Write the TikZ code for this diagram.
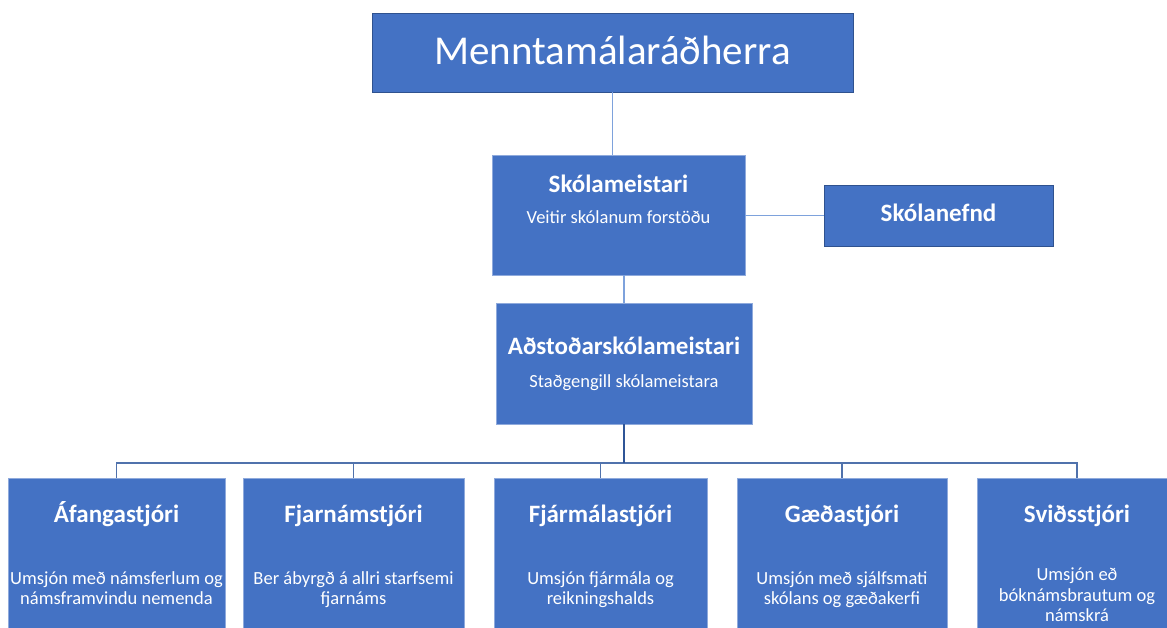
\documentclass[tikz,border=0pt]{standalone}
\usepackage{fontspec}
\setmainfont{Carlito}
\definecolor{boxblue}{HTML}{4472C4}
\definecolor{edgedark}{HTML}{2F528F}
\definecolor{edgelight}{HTML}{8FAADC}
\definecolor{linkblue}{HTML}{7EA2DC}
\definecolor{bardark}{HTML}{2F5597}
\definecolor{barblue}{HTML}{5072AC}
\begin{document}
\begin{tikzpicture}[x=1pt, y=-1pt,
  unit/.style={rectangle, fill=boxblue, draw=edgelight, line width=0.8pt, inner sep=0pt},
  head/.style={text=white, font=\fontsize{25}{29}\selectfont\bfseries, inner sep=0pt, anchor=base},
  sub/.style={text=white, font=\fontsize{18.5}{20.5}\selectfont, align=center, inner sep=0pt, anchor=base},
  link/.style={draw=linkblue, line width=1.3pt},
  bar/.style={draw=barblue, line width=1.5pt},
  trunk/.style={draw=bardark, line width=2.5pt}]
\useasboundingbox (0,0) rectangle (1167,628);
% top of the chart
\node[unit, draw=edgedark, minimum width=481pt, minimum height=79pt] (rad) at (612.5,52.5){};
\node[text=white, font=\fontsize{41}{45}\selectfont, inner sep=0pt, anchor=base] (radt) at (612.5,65){Menntamálaráðherra};
\node[unit, minimum width=253pt, minimum height=120pt] (meist) at (618.5,215){};
\node[head] (meistt) at (618.5,193){Skólameistari};
\node[sub] (meists) at (618.5,224){Veitir skólanum forstöðu};
\node[unit, draw=edgedark, minimum width=229pt, minimum height=61pt] (nefnd) at (938.5,215.5){};
\node[head] (nefndt) at (938.5,222){Skólanefnd};
\node[unit, minimum width=256pt, minimum height=121pt] (adst) at (624,363.5){};
\node[head] (adstt) at (624,354){Aðstoðarskólameistari};
\node[sub] (adsts) at (624,387){Staðgengill skólameistara};
\draw[link](rad.south) -- (rad.south |- meist.north);
\draw[link](nefnd.west -| meist.east) -- (nefnd.west);
\draw[link](adst.north) -- (adst.north |- meist.south);
% lower row
\node[unit, minimum width=217pt, minimum height=172pt] (stj1) at (116.5,564){};
\node[head] (stj1t) at (116.5,522){Áfangastjóri};
\node[sub] (stj1s) at (116.5,604.5){Umsjón með námsferlum og\\námsframvindu nemenda};
\node[unit, minimum width=221pt, minimum height=172pt] (stj2) at (353.5,564){};
\node[head] (stj2t) at (353.5,522){Fjarnámstjóri};
\node[sub] (stj2s) at (353.5,604.5){Ber ábyrgð á allri starfsemi\\fjarnáms};
\node[unit, minimum width=213pt, minimum height=172pt] (stj3) at (600.5,564){};
\node[head] (stj3t) at (600.5,522){Fjármálastjóri};
\node[sub] (stj3s) at (600.5,604.5){Umsjón fjármála og\\reikningshalds};
\node[unit, minimum width=210pt, minimum height=172pt] (stj4) at (842,564){};
\node[head] (stj4t) at (842,522){Gæðastjóri};
\node[sub] (stj4s) at (842,604.5){Umsjón með sjálfsmati\\skólans og gæðakerfi};
\node[unit, minimum width=200pt, minimum height=172pt] (stj5) at (1077,564){};
\node[head] (stj5t) at (1077,522){Sviðsstjóri};
\node[sub] (stj5s) at (1077,621.5){Umsjón eð\\bóknámsbrautum og\\námskrá};
\coordinate (fork) at (adst.south |- 0,463);
\draw[bar](stj1.north) -- (stj1.north |- fork) -| (stj5.north);
\draw[bar](stj2.north) -- (stj2.north |- fork);
\draw[bar](stj3.north) -- (stj3.north |- fork);
\draw[bar](stj4.north) -- (stj4.north |- fork);
\draw[trunk](adst.south) -- (fork);
\end{tikzpicture}
\end{document}
